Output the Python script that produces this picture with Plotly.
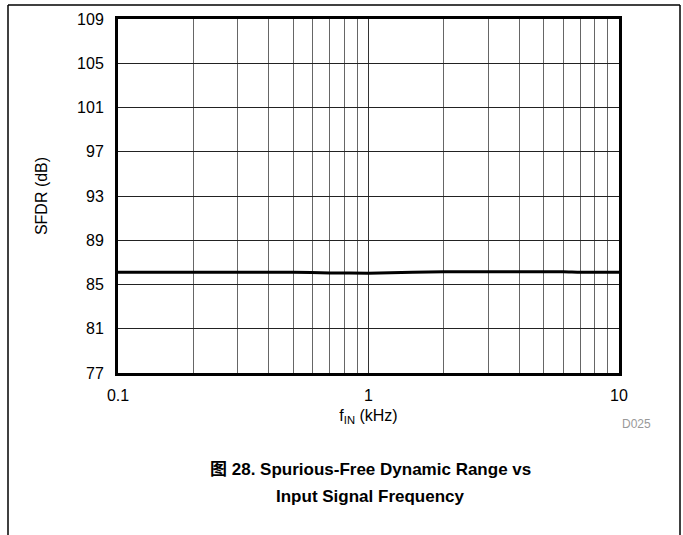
import plotly.graph_objects as go

freq_khz = [0.1, 0.2, 0.3, 0.5, 0.7, 1.0, 1.5, 2.0, 3.0, 5.0, 6.0, 7.0, 8.0, 10.0]
sfdr_db = [86.1, 86.1, 86.1, 86.1, 86.05, 86.02, 86.1, 86.15, 86.15, 86.15, 86.15, 86.1, 86.1, 86.1]

x_major = [0.1, 1, 10]
x_major_labels = ["0.1", "1", "10"]
x_minor = [0.2, 0.3, 0.4, 0.5, 0.6, 0.7, 0.8, 0.9, 2, 3, 4, 5, 6, 7, 8, 9]
y_ticks = [77, 81, 85, 89, 93, 97, 101, 105, 109]

FONT = "Liberation Sans, Arial, Noto Sans CJK SC, sans-serif"

fig = go.Figure()
fig.add_trace(go.Scatter(x=freq_khz, y=sfdr_db, mode="lines",
                         line=dict(color="black", width=3, shape="spline", smoothing=0.6),
                         showlegend=False, hoverinfo="skip"))

L, R, T, B = 118, 64, 19, 162
W, H = 683, 535
pw = W - L - R
ph = H - T - B

def px(x):
    return (x - L) / pw

def py(y):
    return (H - B - y) / ph

fig.update_layout(
    width=W, height=H,
    margin=dict(l=L, r=R, t=T, b=B),
    paper_bgcolor="white", plot_bgcolor="white",
    font=dict(family=FONT, size=16, color="black"),
    xaxis=dict(type="log", range=[-1, 1], tickvals=x_major, ticktext=x_major_labels,
               showgrid=True, gridcolor="#333333", gridwidth=1,
               minor=dict(tickvals=x_minor, showgrid=True, gridcolor="#666666", gridwidth=1, ticks=""),
               showline=True, linecolor="black", linewidth=3, mirror=True,
               ticks="", ticklabelstandoff=6, zeroline=False,
               title=dict(text="f<sub>IN</sub> (kHz)", font=dict(size=16), standoff=7)),
    yaxis=dict(range=[77, 109], tickvals=y_ticks,
               showgrid=True, gridcolor="#222222", gridwidth=1,
               showline=True, linecolor="black", linewidth=3, mirror=True,
               ticks="", ticklabelstandoff=8, zeroline=False,
               title=dict(text="SFDR (dB)", font=dict(size=16), standoff=26)),
)

# outer frame
frame = dict(type="line", xref="paper", yref="paper", line=dict(color="black", width=1.5))
fig.add_shape(**frame, x0=px(8), x1=px(8), y0=py(5), y1=py(535))
fig.add_shape(**frame, x0=px(680), x1=px(680), y0=py(5), y1=py(535))
fig.add_shape(**frame, x0=px(8), x1=px(680), y0=py(5), y1=py(5))

ann = dict(xref="paper", yref="paper", showarrow=False, xanchor="center", yanchor="middle")
fig.add_annotation(**ann, text="D025", x=px(636), y=py(424),
                   font=dict(size=12, color="#999999"))
fig.add_annotation(**ann, text="<b>图 28. Spurious-Free Dynamic Range vs</b>",
                   x=px(370), y=py(469), font=dict(size=17))
fig.add_annotation(**ann, text="<b>Input Signal Frequency</b>",
                   x=px(370), y=py(496), font=dict(size=17))

fig.write_html("out.html", config={"displayModeBar": False},
               post_script="document.body.style.margin='0px';document.body.style.overflow='hidden';")
